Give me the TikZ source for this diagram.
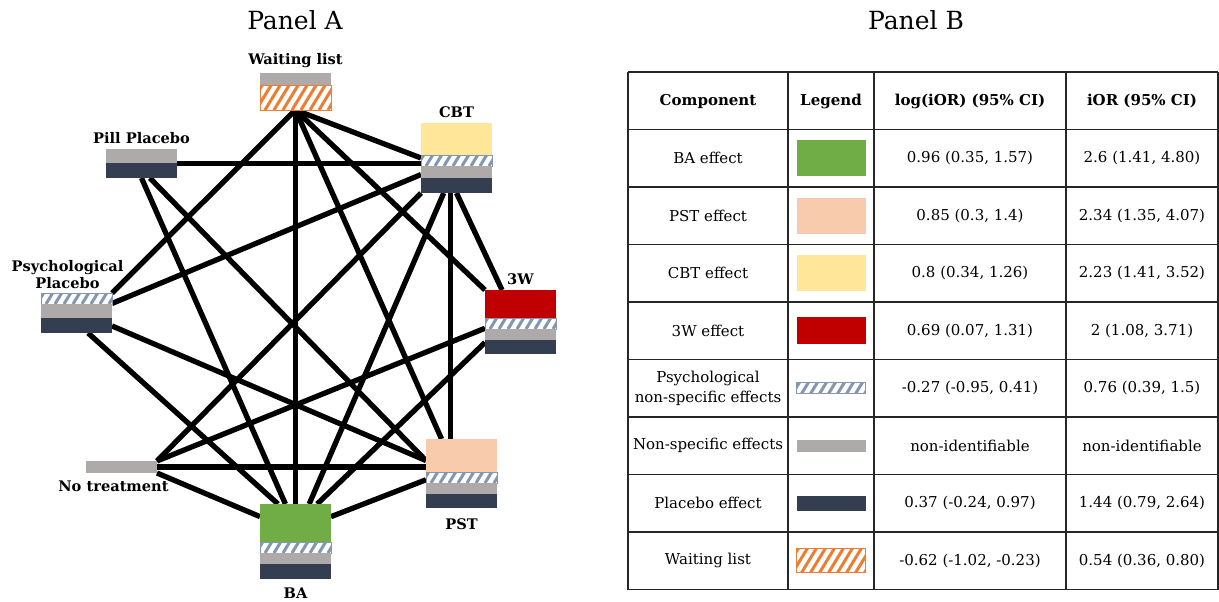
\documentclass[tikz,border=0pt]{standalone}
\usepackage{fontspec}
\setmainfont{DejaVu Serif}
\usetikzlibrary{positioning,calc}
\definecolor{bagreen}{HTML}{70AD47}
\definecolor{pstpeach}{HTML}{F8CBAD}
\definecolor{cbtyellow}{HTML}{FFE699}
\definecolor{twred}{HTML}{C00000}
\definecolor{nsgray}{HTML}{AEAAAA}
\definecolor{plnavy}{HTML}{333F50}
\definecolor{psyblue}{HTML}{8497B0}
\definecolor{wlorange}{HTML}{ED7D31}
\tikzset{
  treat/.style={minimum width=71, minimum height=#1, inner sep=0, outer sep=0},
  lab/.style={font=\fontsize{14.6}{17}\selectfont\bfseries, align=center, inner sep=0},
  link/.style={line width=5.3, black},
  grid/.style={line width=1.4, black!85},
  cell/.style={font=\fontsize{15}{20.5}\selectfont, align=center, inner sep=0},
  head/.style={cell, font=\fontsize{15}{20}\selectfont\bfseries},
  legbox/.style={minimum width=69, minimum height=#1, inner sep=0, outer sep=0},
  stripes/.style={fill=white, draw=#1, line width=1,
    path picture={\foreach \i in {-40,-31,...,80}
      \draw[#1, line width=3] ($(path picture bounding box.south west)+(\i,0)$) -- ++(22,-36);}},
  baeff/.style={fill=bagreen},
  psteff/.style={fill=pstpeach},
  cbteff/.style={fill=cbtyellow},
  tweff/.style={fill=twred},
  nseff/.style={fill=nsgray},
  pleff/.style={fill=plnavy},
  psyeff/.style={stripes=psyblue},
  wleff/.style={stripes=wlorange}
}
% stacked component layers, from the top of a treatment node
\newcommand\layers[2]{%
  \coordinate (lt) at (#1.north west);
  \foreach \h/\s in {#2}{
    \path[\s] (lt) rectangle ++(71,\h);
    \coordinate (lt) at ($(lt)+(0,\h)$);
  }}
\begin{document}
\begin{tikzpicture}[x=1pt,y=-1pt]
\useasboundingbox (0,0) rectangle (1219,602);

% Panel A
\node[font=\fontsize{25}{28}\selectfont] (pa) at (295,20) {Panel A};
\node[treat=37] (WL) at (295.5,91.5) {};
\node[treat=70] (CBT) at (456.5,158) {};
\node[treat=29] (Pill) at (141.5,163.5) {};
\node[treat=40] (PsyP) at (76.5,313) {};
\node[treat=64] (TW) at (520.5,322) {};
\node[treat=69] (PST) at (461.5,473.5) {};
\node[treat=75] (BA) at (295.5,541.5) {};
\node[treat=12] (NT) at (121.5,467) {};

\draw[link] (WL.south) -- (PsyP.north east);
\draw[link] (WL.south) -- (BA.north);
\draw[link] (WL.south) -- (PST.120);
\draw[link] (WL.south) -- (TW.north west);
\draw[link] (WL.south) -- (CBT.west);
\draw[link] (Pill.east) -- (Pill.east -| CBT.west);
\draw[link] (Pill.south) -- (BA.105);
\draw[link] (Pill.300) -- (PST.160);
\draw[link] (PsyP.15) -- (CBT.205);
\draw[link] (PsyP.340) -- (PST.160);
\draw[link] (PsyP.300) -- (BA.115);
\draw[link] (NT.north east) -- (CBT.south west);
\draw[link] (NT.north east) -- (TW.190);
\draw[link] (NT.east) -- (NT.east -| PST.west);
\draw[link] (NT.south east) -- (BA.145);
\draw[link] (CBT.250) -- (BA.70);
\draw[link] (CBT.260) -- (CBT.260 |- PST.north);
\draw[link] (CBT.south) -- (TW.120);
\draw[link] (TW.210) -- (BA.60);
\draw[link] (PST.190) -- (BA.35);

\layers{WL}{13/nseff,24/wleff}
\layers{CBT}{32/cbteff,11/psyeff,12/nseff,15/pleff}
\layers{Pill}{14/nseff,15/pleff}
\layers{PsyP}{11/psyeff,14/nseff,15/pleff}
\layers{TW}{28/tweff,11/psyeff,11/nseff,14/pleff}
\layers{PST}{33/psteff,11/psyeff,11/nseff,14/pleff}
\layers{BA}{38/baeff,11/psyeff,11/nseff,15/pleff}
\layers{NT}{12/nseff}

\node[lab, above=5pt of WL] (WLl) {Waiting list};
\node[lab, above=5pt of CBT] (CBTl) {CBT};
\node[lab, above=5pt of Pill] (Pilll) {Pill Placebo};
\node[lab, above=4pt of PsyP, xshift=-9] (PsyPl) {Psychological\\Placebo};
\node[lab, above=5pt of TW] (TWl) {3W};
\node[lab, below=8pt of NT, xshift=-8] (NTl) {No treatment};
\node[lab, below=10pt of PST] (PSTl) {PST};
\node[lab, below=9pt of BA] (BAl) {BA};

% Panel B
\node[font=\fontsize{25}{28}\selectfont] (pb) at (916,20) {Panel B};
\foreach \k in {0,...,9}
  \draw[grid] (628,{72+57.5*\k}) -- (1218,{72+57.5*\k});
\foreach \x in {628,788,874,1066,1218}
  \draw[grid] (\x,72) -- (\x,589.5);
\node[head] (h1) at (708,101) {Component};
\node[head] (h2) at (831,101) {Legend};
\node[head] (h3) at (970,101) {log(iOR) (95\% CI)};
\node[head] (h4) at (1142,101) {iOR (95\% CI)};
\foreach \r/\comp/\st/\h/\lg/\io in {
  1/BA effect/baeff/36/{0.96 (0.35, 1.57)}/{2.6 (1.41, 4.80)},
  2/PST effect/psteff/36/{0.85 (0.3, 1.4)}/{2.34 (1.35, 4.07)},
  3/CBT effect/cbteff/36/{0.8 (0.34, 1.26)}/{2.23 (1.41, 3.52)},
  4/3W effect/tweff/27/{0.69 (0.07, 1.31)}/{2 (1.08, 3.71)},
  5/{Psychological\\non-specific effects}/psyeff/11/{-0.27 (-0.95, 0.41)}/{0.76 (0.39, 1.5)},
  6/Non-specific effects/nseff/12/non-identifiable/non-identifiable,
  7/Placebo effect/pleff/15/{0.37 (-0.24, 0.97)}/{1.44 (0.79, 2.64)},
  8/Waiting list/wleff/24/{-0.62 (-1.02, -0.23)}/{0.54 (0.36, 0.80)}}{
  \pgfmathsetmacro\yc{72+57.5*\r+28.75}
  \node[cell] (comp\r) at (708,\yc) {\comp};
  \node[legbox=\h, \st] (leg\r) at (831,\yc) {};
  \node[cell] (log\r) at (970,\yc) {\lg};
  \node[cell] (ior\r) at (1142,\yc) {\io};
}
\end{tikzpicture}
\end{document}
